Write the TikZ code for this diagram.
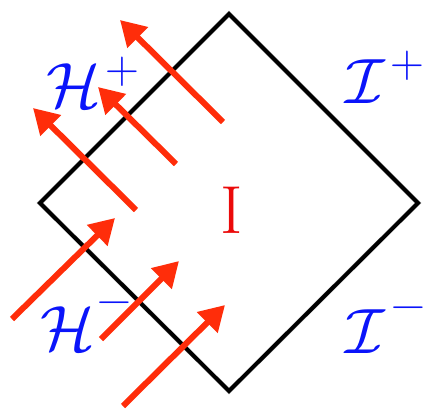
\RequirePackage{fix-cm}
\documentclass[tikz,border=0pt]{standalone}
\usepackage{amsmath,amssymb}
\usepackage{xcolor}
\usetikzlibrary{arrows.meta,positioning,calc}
\definecolor{raycol}{RGB}{255,45,10}
\definecolor{scrblue}{RGB}{10,20,250}
\definecolor{regred}{RGB}{235,10,10}

\begin{document}
\begin{tikzpicture}[
  x=1pt, y=-1pt,
  ray/.style={draw=raycol, line width=6pt, -{Triangle[length=25pt,width=28pt]}},
  bndry/.style={draw=black, line width=4pt, line join=miter},
  scri/.style={text=scrblue, inner sep=0pt, anchor=base west, font=\fontsize{64}{64}\selectfont},
  sgn/.style={text=scrblue, inner sep=0pt, font=\fontsize{47}{47}\selectfont},
]
\useasboundingbox (0,0) rectangle (427,408);
% corners of the diamond
\coordinate (top) at (229,14);
\coordinate (right) at (418,203);
\coordinate (bot) at (229,391);
\coordinate (left) at (40,203);
% soft shadow, then boundary
\draw[line width=5pt, black!25, opacity=0.6, line join=miter, shift={(3,3)}]
  (top) -- (right) -- (bot) -- (left) -- cycle;
\draw[bndry] (top) -- (right) -- (bot) -- (left) -- cycle;
% labels
\node[scri] (hplus) at (46,107) {$\mathcal{H}$};
\node[sgn] (hplussgn) at (122,72) {+};
\node[scri] (iplus) at (345,103) {$\mathcal{I}$};
\node[sgn] (iplussgn) at (407,66) {+};
\node[scri] (hminus) at (40,350) {$\mathcal{H}$};
\node[sgn] (hminussgn) at (114,308) {\char"2212};
\node[scri] (iminus) at (345,353) {$\mathcal{I}$};
\node[sgn] (iminussgn) at (408,313) {\char"2212};
\node[text=regred, inner sep=0pt, font=\fontsize{68}{68}\selectfont] (region) at (232,210) {I};
% outgoing rays
\coordinate (o1s) at (223,122); \coordinate (o1e) at (120,20);
\coordinate (o2s) at (176,164); \coordinate (o2e) at (98,87);
\coordinate (o3s) at (136,210); \coordinate (o3e) at (33,108);
% incoming rays
\coordinate (i1s) at (12,319); \coordinate (i1e) at (115,218);
\coordinate (i2s) at (101,339); \coordinate (i2e) at (179,261);
\coordinate (i3s) at (123,406); \coordinate (i3e) at (225,305);
\foreach \a/\b in {o1s/o1e,o2s/o2e,o3s/o3e,i1s/i1e,i2s/i2e,i3s/i3e}
  \draw[ray] (\a) -- (\b);
\end{tikzpicture}
\end{document}
